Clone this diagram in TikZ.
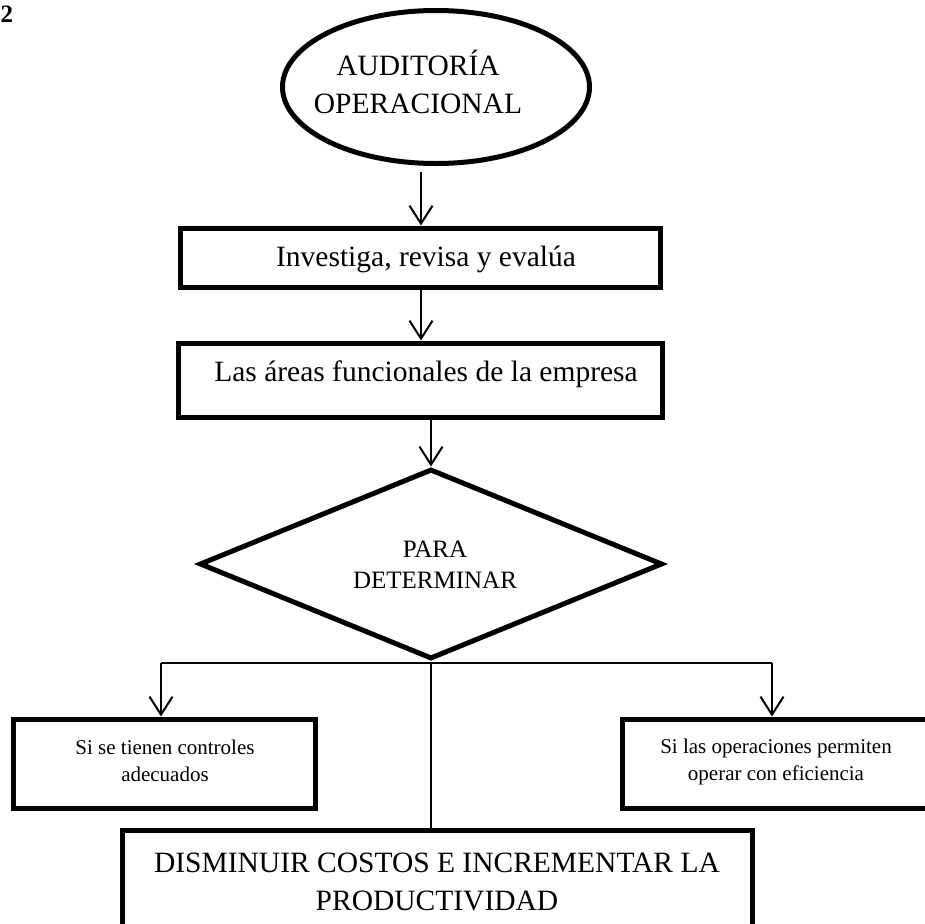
\documentclass[tikz,border=0pt]{standalone}
\usepackage{fontspec}
\setmainfont{Liberation Serif}
\usetikzlibrary{shapes.geometric,arrows.meta}

\begin{document}
\begin{tikzpicture}[x=1pt,y=-1pt,
  frame/.style={draw, line width=5pt, inner sep=0pt},
  flow/.style={line width=2pt, -{Straight Barb[length=18pt,width=23pt]}},
  link/.style={line width=1.6pt},
  bigtxt/.style={font=\fontsize{29.5}{38}\selectfont, align=center, inner sep=0pt, anchor=base},
  midtxt/.style={font=\fontsize{25}{31}\selectfont, align=center, inner sep=0pt, anchor=base},
  smalltxt/.style={font=\fontsize{21}{27}\selectfont, align=center, inner sep=0pt, anchor=base}
]
\useasboundingbox (0,0) rectangle (924,924);

% figure number
\node[font=\fontsize{25}{30}\bfseries\selectfont, inner sep=0pt, anchor=base west] (num) at (0.5,22) {2};

% start ellipse (text placed by the baseline of its last line)
\node[frame, ellipse, minimum width=307, minimum height=153] (start) at (436,87) {};
\node[bigtxt] (starttxt) at (418,113) {AUDITORÍA\\OPERACIONAL};

% process boxes
\node[frame, rectangle, minimum width=480, minimum height=59] (b1) at (420,257.5) {};
\node[bigtxt] (b1txt) at (426,266) {Investiga, revisa y evalúa};

\node[frame, rectangle, minimum width=484, minimum height=74] (b2) at (420,380) {};
\node[bigtxt] (b2txt) at (426,381) {Las áreas funcionales de la empresa};

% decision
\node[frame, diamond, minimum width=463, minimum height=190] (dec) at (431,564) {};
\node[midtxt] (dectxt) at (435,588) {PARA\\DETERMINAR};

% outcome boxes
\node[frame, rectangle, minimum width=302, minimum height=89] (lb) at (164,763.5) {};
\node[smalltxt] (lbtxt) at (165,781) {Si se tienen controles\\adecuados};

\node[frame, rectangle, minimum width=308, minimum height=89] (rb) at (776,763.5) {};
\node[smalltxt] (rbtxt) at (776,780) {Si las operaciones permiten\\operar con eficiencia};

\node[frame, rectangle, minimum width=630, minimum height=130] (bot) at (437,895) {};
\node[bigtxt] (bottxt) at (437,910) {DISMINUIR COSTOS E INCREMENTAR LA\\PRODUCTIVIDAD};

% connectors
\coordinate (a1) at (421,172);
\draw[flow] (a1) -- (b1.north -| a1);
\coordinate (a2) at (421,290);
\draw[flow] (b1.south -| a2) -- (b2.north -| a2);
\draw[flow] (b2.south -| dec.north) -- (dec.north);

\coordinate (brl) at (161,663);
\coordinate (brr) at (772,663);
\draw[link] (brl) -- (brr);
\draw[flow] (brl) -- (lb.north -| brl);
\draw[flow] (brr) -- (rb.north -| brr);
\draw[link] (dec.south) -- (bot.north -| dec.south);
\end{tikzpicture}
\end{document}
